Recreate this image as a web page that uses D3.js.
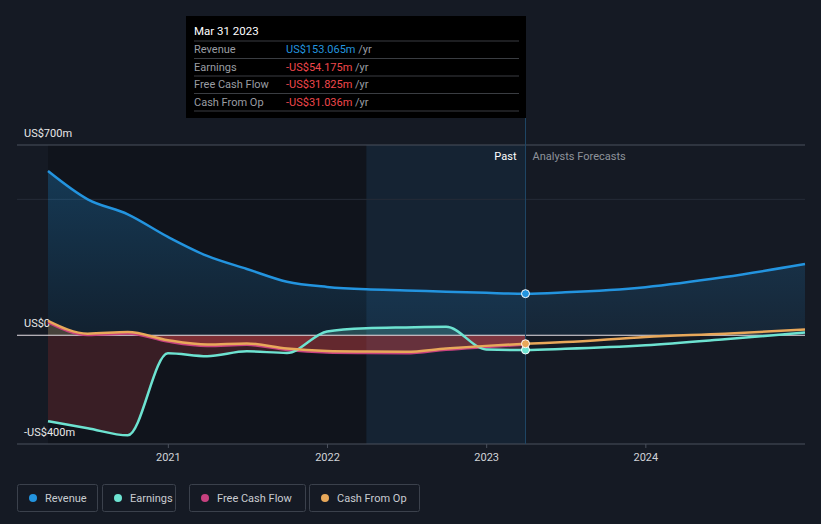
<!DOCTYPE html>
<html>
<head>
<meta charset="utf-8">
<script src="https://cdn.jsdelivr.net/npm/d3@7"></script>
<style>
  body { margin: 0; background: #151a24; }
  svg { display: block; font-family: Roboto, "Noto Sans", sans-serif; }
</style>
</head>
<body>
<div id="chart"></div>
<script>
// quarter-end dates for the past series
var pastDates = ["2020-03-31", "2020-06-30", "2020-09-30", "2020-12-31",
  "2021-03-31", "2021-06-30", "2021-09-30", "2021-12-31",
  "2022-03-31", "2022-06-30", "2022-09-30", "2022-12-31", "2023-03-31"];
var forecastDates = ["2023-03-31", "2023-06-30", "2023-12-31", "2024-06-30", "2024-12-31"];

// values in US$m
var revenuePast = [604, 500, 445, 362, 292, 244, 197, 178, 169, 165, 160, 156, 153.065];
var revenueForecast = [153.065, 158, 177, 214, 262];
var earningsPast = [-316, -342, -368, -66, -77, -59, -65, 14, 26, 29, 31, -52, -54.175];
var earningsForecast = [-54.175, -50, -37, -15, 10];
var fcfPast = [50, 3, 9, -21, -37, -33, -52, -61, -63, -64, -51, -41, -31.825];
var cfoPast = [53, 6, 12, -18, -34, -30, -49, -58, -60, -61, -49, -39, -31.036];
var cfoForecast = [-31.036, -25, -6, 6, 21];

var yTicks = [700, 0, -400];
var xTicks = ["2021-01-01", "2022-01-01", "2023-01-01", "2024-01-01"];

var tooltipTitle = "Mar 31 2023";
var tooltipRows = [
  { label: "Revenue", value: "US$153.065m", color: "#2394df" },
  { label: "Earnings", value: "-US$54.175m", color: "#f0474c" },
  { label: "Free Cash Flow", value: "-US$31.825m", color: "#f0474c" },
  { label: "Cash From Op", value: "-US$31.036m", color: "#f0474c" }
];

var legendItems = [
  { name: "Revenue", color: "#2394df" },
  { name: "Earnings", color: "#6de3d1" },
  { name: "Free Cash Flow", color: "#c7417f" },
  { name: "Cash From Op", color: "#e8a85a" }
];

var width = 821, height = 524;
var parse = d3.timeParse("%Y-%m-%d");

var svg = d3.select("#chart").append("svg")
  .attr("width", width).attr("height", height);

var x = d3.scaleTime()
  .domain([parse("2020-03-31"), parse("2024-12-31")])
  .range([48, 805]);
var y = d3.scaleLinear().domain([-400, 700]).range([444, 145]);

var split = parse("2023-03-31");
var bandStart = parse("2022-03-31");

function series(dates, vals) {
  return dates.map((d, i) => ({ date: parse(d), v: vals[i] }));
}

var revenue = series(pastDates, revenuePast).concat(series(forecastDates, revenueForecast).slice(1));
var earnings = series(pastDates, earningsPast).concat(series(forecastDates, earningsForecast).slice(1));
var fcf = series(pastDates, fcfPast);
var cfo = series(pastDates, cfoPast).concat(series(forecastDates, cfoForecast).slice(1));
var earningsP = series(pastDates, earningsPast);
var cfoP = series(pastDates, cfoPast);

var defs = svg.append("defs");
var g1 = defs.append("linearGradient").attr("id", "revFill")
  .attr("gradientUnits", "userSpaceOnUse")
  .attr("x1", 0).attr("x2", 0).attr("y1", y(700)).attr("y2", y(0));
g1.append("stop").attr("offset", "0%").attr("stop-color", "#2394df").attr("stop-opacity", 0.32);
g1.append("stop").attr("offset", "100%").attr("stop-color", "#2394df").attr("stop-opacity", 0.1);

defs.append("clipPath").attr("id", "above")
  .append("rect").attr("x", 0).attr("y", 0).attr("width", width).attr("height", y(0));
defs.append("clipPath").attr("id", "below")
  .append("rect").attr("x", 0).attr("y", y(0)).attr("width", width).attr("height", height - y(0));

// background regions
svg.append("rect").attr("x", x.range()[0]).attr("y", y(700))
  .attr("width", x(bandStart) - x.range()[0]).attr("height", y(-400) - y(700))
  .attr("fill", "#0b0e13").attr("opacity", 0.45);
svg.append("rect").attr("x", x(bandStart)).attr("y", y(700))
  .attr("width", x(split) - x(bandStart)).attr("height", y(-400) - y(700))
  .attr("fill", "#1b4a72").attr("opacity", 0.2);

// grid
svg.append("line").attr("x1", 17).attr("x2", 805).attr("y1", y(700)).attr("y2", y(700))
  .attr("stroke", "#4a505c");
svg.append("line").attr("x1", 17).attr("x2", 805).attr("y1", y(500)).attr("y2", y(500))
  .attr("stroke", "#262c37");

var line = d3.line().x(d => x(d.date)).y(d => y(d.v)).curve(d3.curveMonotoneX);
var area = d3.area().x(d => x(d.date)).y0(y(0)).y1(d => y(d.v)).curve(d3.curveMonotoneX);

// fills
svg.append("path").attr("d", area(revenue)).attr("fill", "url(#revFill)");
svg.append("path").attr("d", area(earningsP)).attr("fill", "#6de3d1")
  .attr("opacity", 0.22).attr("clip-path", "url(#above)");
svg.append("path").attr("d", area(earningsP)).attr("fill", "#e0474c")
  .attr("opacity", 0.2).attr("clip-path", "url(#below)");
svg.append("path").attr("d", area(cfoP)).attr("fill", "#e0474c")
  .attr("opacity", 0.4).attr("clip-path", "url(#below)");
svg.append("path").attr("d", area(cfoP)).attr("fill", "#e8a85a")
  .attr("opacity", 0.25).attr("clip-path", "url(#above)");

// zero line and axis
svg.append("line").attr("x1", 17).attr("x2", 805).attr("y1", y(0)).attr("y2", y(0))
  .attr("stroke", "#e6dfe4").attr("stroke-width", 1.2);

var xAxis = svg.append("g").attr("transform", "translate(0," + y(-400) + ")");
xAxis.append("line").attr("x1", 17).attr("x2", 805).attr("stroke", "#4a505c");
xAxis.selectAll("g.tick").data(xTicks.map(parse)).join("g")
  .attr("transform", d => "translate(" + x(d) + ",0)")
  .each(function (d) {
    var t = d3.select(this);
    t.append("line").attr("y2", 4).attr("stroke", "#4a505c");
    t.append("text").attr("y", 17).attr("text-anchor", "middle")
      .attr("fill", "#d0d3d8").attr("font-size", 11).text(d3.timeFormat("%Y")(d));
  });

// y labels
svg.selectAll("text.ylab").data(yTicks).join("text")
  .attr("class", "ylab").attr("x", 24)
  .attr("y", d => y(d) - 8)
  .attr("fill", "#e8e8e8").attr("font-size", 11)
  .text(d => d === 0 ? "US$0" : (d < 0 ? "-US$" + (-d) + "m" : "US$" + d + "m"));

// lines
svg.append("path").attr("d", line(revenue)).attr("fill", "none")
  .attr("stroke", "#2394df").attr("stroke-width", 2.5);
svg.append("path").attr("d", line(fcf)).attr("fill", "none")
  .attr("stroke", "#c7417f").attr("stroke-width", 2.5).attr("transform", "translate(0,0.6)");
svg.append("path").attr("d", line(earnings)).attr("fill", "none")
  .attr("stroke", "#6de3d1").attr("stroke-width", 2.5);
svg.append("path").attr("d", line(cfo)).attr("fill", "none")
  .attr("stroke", "#e8a85a").attr("stroke-width", 2.5);

// past / forecast labels
svg.append("text").attr("x", x(split) - 9).attr("y", 160).attr("text-anchor", "end")
  .attr("fill", "#ffffff").attr("font-size", 11).text("Past");
svg.append("text").attr("x", x(split) + 7).attr("y", 160)
  .attr("fill", "#8e939b").attr("font-size", 11).text("Analysts Forecasts");

// hover line and markers
svg.append("line").attr("x1", x(split)).attr("x2", x(split)).attr("y1", 16).attr("y2", y(-400))
  .attr("stroke", "#1f4666").attr("stroke-width", 1);
[[revenuePast, "#2394df"], [earningsPast, "#6de3d1"], [cfoPast, "#e8a85a"]].forEach(function (s) {
  svg.append("circle").attr("cx", x(split)).attr("cy", y(s[0][s[0].length - 1])).attr("r", 4)
    .attr("fill", s[1]).attr("stroke", "#ffffff").attr("stroke-width", 1);
});

// tooltip
var tip = svg.append("g");
tip.append("rect").attr("x", 186).attr("y", 16).attr("width", 340).attr("height", 102).attr("fill", "#000");
tip.append("text").attr("x", 194).attr("y", 35).attr("fill", "#fff").attr("font-size", 11.5).text(tooltipTitle);
tooltipRows.forEach(function (r, i) {
  var top = 41 + i * 17.5;
  tip.append("line").attr("x1", 194).attr("x2", 519).attr("y1", top).attr("y2", top)
    .attr("stroke", "#3a3d42");
  tip.append("text").attr("x", 194).attr("y", top + 12).attr("fill", "#9a9da3")
    .attr("font-size", 11).text(r.label);
  var t = tip.append("text").attr("x", 286).attr("y", top + 12).attr("font-size", 11);
  t.append("tspan").attr("fill", r.color).text(r.value);
  t.append("tspan").attr("fill", "#9a9da3").text(" /yr");
});
tip.append("line").attr("x1", 194).attr("x2", 519).attr("y1", 111).attr("y2", 111)
  .attr("stroke", "#3a3d42");

// legend
var lx = [17, 102, 189, 309], lw = [80, 73, 116, 110];
legendItems.forEach(function (d, i) {
  var lg = svg.append("g").attr("transform", "translate(" + lx[i] + ",484)");
  lg.append("rect").attr("x", 0.5).attr("y", 0.5).attr("width", lw[i]).attr("height", 27)
    .attr("rx", 2).attr("fill", "none").attr("stroke", "#3b414c");
  lg.append("circle").attr("cx", 16).attr("cy", 14).attr("r", 4).attr("fill", d.color);
  lg.append("text").attr("x", 28).attr("y", 18).attr("fill", "#c9ccd1")
    .attr("font-size", 11).text(d.name);
});
</script>
</body>
</html>
